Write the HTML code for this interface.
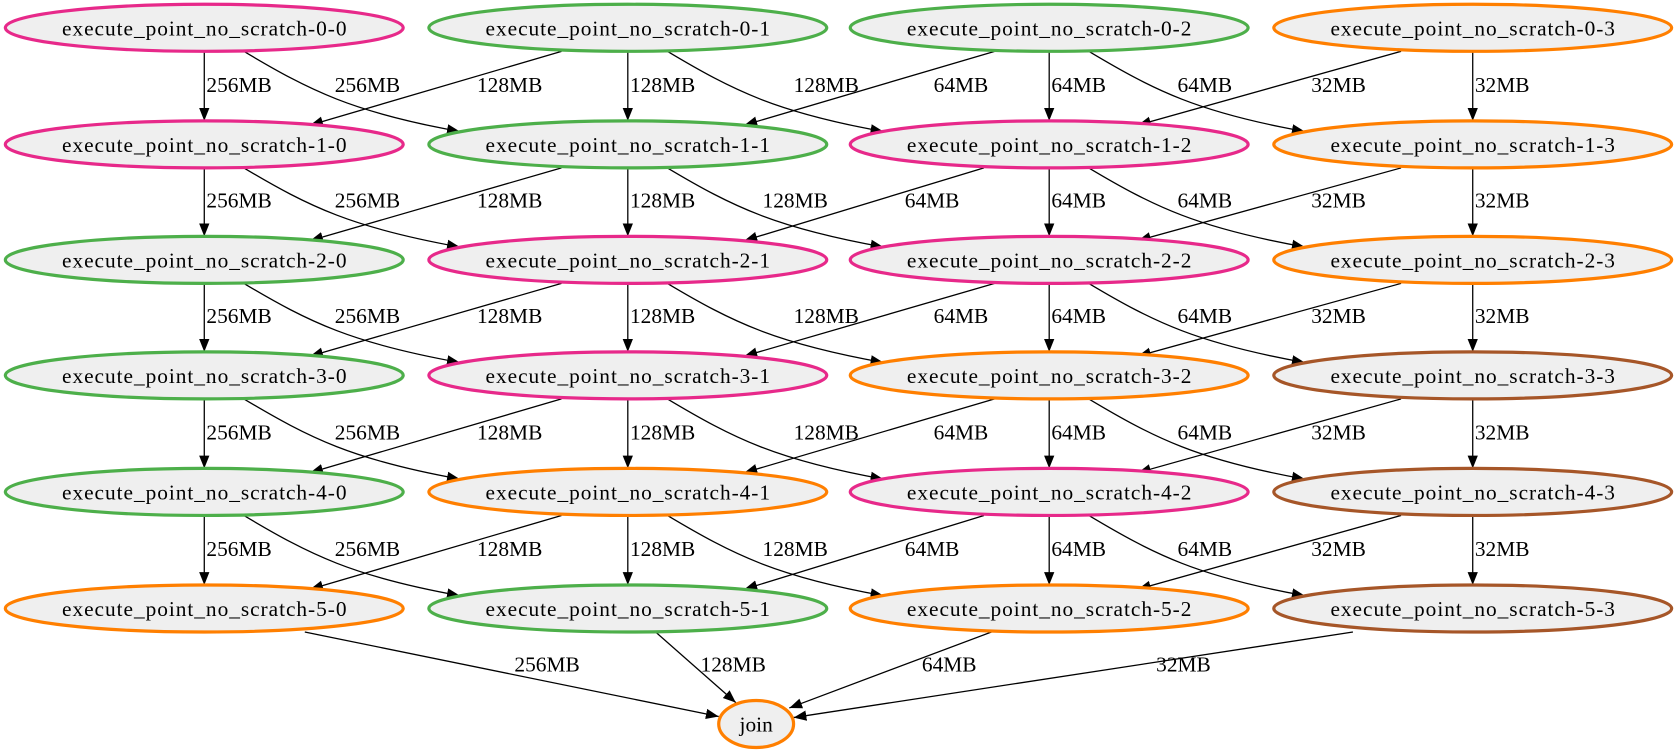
<!DOCTYPE html>
<html><head><meta charset="utf-8"><style>
html,body{margin:0;padding:0;background:#fff;}
svg{display:block;}
text{font-family:"Liberation Serif",serif;font-size:20px;fill:#000;}
.n text{text-anchor:middle;}
.e{fill:none;stroke:#000;stroke-width:1.2;marker-end:url(#a);}
</style></head><body>
<svg width="1677" height="755" viewBox="0 0 1568 706" preserveAspectRatio="none" xmlns="http://www.w3.org/2000/svg">
<defs><marker id="a" viewBox="0 0 10 10" refX="10" refY="5" markerWidth="12" markerHeight="12" markerUnits="userSpaceOnUse" orient="auto"><path d="M0,1 L10,5 L0,9 z" fill="#000"/></marker></defs>
<g>
<path class="e" d="M191,48 L191,113"/><path class="e" d="M587,48 L587,113"/><path class="e" d="M981,48 L981,113"/><path class="e" d="M1377,48 L1377,113"/>
<path class="e" d="M191,157 L191,221"/><path class="e" d="M587,157 L587,221"/><path class="e" d="M981,157 L981,221"/><path class="e" d="M1377,157 L1377,221"/>
<path class="e" d="M191,265 L191,329"/><path class="e" d="M587,265 L587,329"/><path class="e" d="M981,265 L981,329"/><path class="e" d="M1377,265 L1377,329"/>
<path class="e" d="M191,373 L191,438"/><path class="e" d="M587,373 L587,438"/><path class="e" d="M981,373 L981,438"/><path class="e" d="M1377,373 L1377,438"/>
<path class="e" d="M191,482 L191,547"/><path class="e" d="M587,482 L587,547"/><path class="e" d="M981,482 L981,547"/><path class="e" d="M1377,482 L1377,547"/>
<path class="e" d="M228,48 C290,85 330,105 430,123"/><path class="e" d="M624,48 C686,85 726,105 826,123"/><path class="e" d="M1018,48 C1080,85 1120,105 1220,123"/>
<path class="e" d="M228,157 C290,194 330,213 430,231"/><path class="e" d="M624,157 C686,194 726,213 826,231"/><path class="e" d="M1018,157 C1080,194 1120,213 1220,231"/>
<path class="e" d="M228,265 C290,302 330,321 430,339"/><path class="e" d="M624,265 C686,302 726,321 826,339"/><path class="e" d="M1018,265 C1080,302 1120,321 1220,339"/>
<path class="e" d="M228,373 C290,410 330,430 430,448"/><path class="e" d="M624,373 C686,410 726,430 826,448"/><path class="e" d="M1018,373 C1080,410 1120,430 1220,448"/>
<path class="e" d="M228,482 C290,519 330,539 430,557"/><path class="e" d="M624,482 C686,519 726,539 826,557"/><path class="e" d="M1018,482 C1080,519 1120,539 1220,557"/>
<path class="e" d="M525,48 L290,117"/><path class="e" d="M930,48 L696,117"/><path class="e" d="M1310,48 L1064,117"/>
<path class="e" d="M525,157 L290,225"/><path class="e" d="M920,157 L696,225"/><path class="e" d="M1310,157 L1064,225"/>
<path class="e" d="M525,265 L290,333"/><path class="e" d="M930,265 L696,333"/><path class="e" d="M1310,265 L1064,333"/>
<path class="e" d="M525,373 L290,442"/><path class="e" d="M930,373 L696,442"/><path class="e" d="M1310,373 L1064,442"/>
<path class="e" d="M525,482 L290,551"/><path class="e" d="M920,482 L696,551"/><path class="e" d="M1310,482 L1064,551"/>
<path class="e" d="M285,591 L672,670"/><path class="e" d="M613,591 L688,657"/><path class="e" d="M927,591 L738,662"/><path class="e" d="M1265,591 L742,671"/>
</g>
<g>
<text x="193" y="86">256MB</text><text x="313" y="86">256MB</text>
<text x="446" y="86">128MB</text><text x="589" y="86">128MB</text><text x="742" y="86">128MB</text>
<text x="873" y="86">64MB</text><text x="983" y="86">64MB</text><text x="1101" y="86">64MB</text>
<text x="1226" y="86">32MB</text><text x="1379" y="86">32MB</text>

<text x="193" y="194">256MB</text><text x="313" y="194">256MB</text>
<text x="446" y="194">128MB</text><text x="589" y="194">128MB</text><text x="713" y="194">128MB</text>
<text x="846" y="194">64MB</text><text x="983" y="194">64MB</text><text x="1101" y="194">64MB</text>
<text x="1226" y="194">32MB</text><text x="1379" y="194">32MB</text>

<text x="193" y="302">256MB</text><text x="313" y="302">256MB</text>
<text x="446" y="302">128MB</text><text x="589" y="302">128MB</text><text x="742" y="302">128MB</text>
<text x="873" y="302">64MB</text><text x="983" y="302">64MB</text><text x="1101" y="302">64MB</text>
<text x="1226" y="302">32MB</text><text x="1379" y="302">32MB</text>

<text x="193" y="411">256MB</text><text x="313" y="411">256MB</text>
<text x="446" y="411">128MB</text><text x="589" y="411">128MB</text><text x="742" y="411">128MB</text>
<text x="873" y="411">64MB</text><text x="983" y="411">64MB</text><text x="1101" y="411">64MB</text>
<text x="1226" y="411">32MB</text><text x="1379" y="411">32MB</text>

<text x="193" y="520">256MB</text><text x="313" y="520">256MB</text>
<text x="446" y="520">128MB</text><text x="589" y="520">128MB</text><text x="713" y="520">128MB</text>
<text x="846" y="520">64MB</text><text x="983" y="520">64MB</text><text x="1101" y="520">64MB</text>
<text x="1226" y="520">32MB</text><text x="1379" y="520">32MB</text>

<text x="481" y="628">256MB</text><text x="655" y="628">128MB</text><text x="862" y="628">64MB</text><text x="1081" y="628">32MB</text>
</g>
<g class="n" fill="#efefef" stroke-width="3">
<g stroke="#e7298a"><ellipse cx="191" cy="26" rx="186" ry="22"/><ellipse cx="191" cy="135" rx="186" ry="22"/><ellipse cx="981" cy="135" rx="186" ry="22"/><ellipse cx="587" cy="243" rx="186" ry="22"/><ellipse cx="981" cy="243" rx="186" ry="22"/><ellipse cx="587" cy="351" rx="186" ry="22"/><ellipse cx="981" cy="460" rx="186" ry="22"/></g>
<g stroke="#4daf4a"><ellipse cx="587" cy="26" rx="186" ry="22"/><ellipse cx="981" cy="26" rx="186" ry="22"/><ellipse cx="587" cy="135" rx="186" ry="22"/><ellipse cx="191" cy="243" rx="186" ry="22"/><ellipse cx="191" cy="351" rx="186" ry="22"/><ellipse cx="191" cy="460" rx="186" ry="22"/><ellipse cx="587" cy="569" rx="186" ry="22"/></g>
<g stroke="#ff7f00"><ellipse cx="1377" cy="26" rx="186" ry="22"/><ellipse cx="1377" cy="135" rx="186" ry="22"/><ellipse cx="1377" cy="243" rx="186" ry="22"/><ellipse cx="981" cy="351" rx="186" ry="22"/><ellipse cx="587" cy="460" rx="186" ry="22"/><ellipse cx="191" cy="569" rx="186" ry="22"/><ellipse cx="981" cy="569" rx="186" ry="22"/><ellipse cx="707" cy="677" rx="35" ry="22"/></g>
<g stroke="#a65628"><ellipse cx="1377" cy="351" rx="186" ry="22"/><ellipse cx="1377" cy="460" rx="186" ry="22"/><ellipse cx="1377" cy="569" rx="186" ry="22"/></g>
</g>
<g class="n">
<text x="191" y="33" textLength="266">execute_point_no_scratch-0-0</text><text x="587" y="33" textLength="266">execute_point_no_scratch-0-1</text><text x="981" y="33" textLength="266">execute_point_no_scratch-0-2</text><text x="1377" y="33" textLength="266">execute_point_no_scratch-0-3</text>
<text x="191" y="142" textLength="266">execute_point_no_scratch-1-0</text><text x="587" y="142" textLength="266">execute_point_no_scratch-1-1</text><text x="981" y="142" textLength="266">execute_point_no_scratch-1-2</text><text x="1377" y="142" textLength="266">execute_point_no_scratch-1-3</text>
<text x="191" y="250" textLength="266">execute_point_no_scratch-2-0</text><text x="587" y="250" textLength="266">execute_point_no_scratch-2-1</text><text x="981" y="250" textLength="266">execute_point_no_scratch-2-2</text><text x="1377" y="250" textLength="266">execute_point_no_scratch-2-3</text>
<text x="191" y="358" textLength="266">execute_point_no_scratch-3-0</text><text x="587" y="358" textLength="266">execute_point_no_scratch-3-1</text><text x="981" y="358" textLength="266">execute_point_no_scratch-3-2</text><text x="1377" y="358" textLength="266">execute_point_no_scratch-3-3</text>
<text x="191" y="467" textLength="266">execute_point_no_scratch-4-0</text><text x="587" y="467" textLength="266">execute_point_no_scratch-4-1</text><text x="981" y="467" textLength="266">execute_point_no_scratch-4-2</text><text x="1377" y="467" textLength="266">execute_point_no_scratch-4-3</text>
<text x="191" y="576" textLength="266">execute_point_no_scratch-5-0</text><text x="587" y="576" textLength="266">execute_point_no_scratch-5-1</text><text x="981" y="576" textLength="266">execute_point_no_scratch-5-2</text><text x="1377" y="576" textLength="266">execute_point_no_scratch-5-3</text>
<text x="707" y="684">join</text>
</g>
</svg>
</body></html>
